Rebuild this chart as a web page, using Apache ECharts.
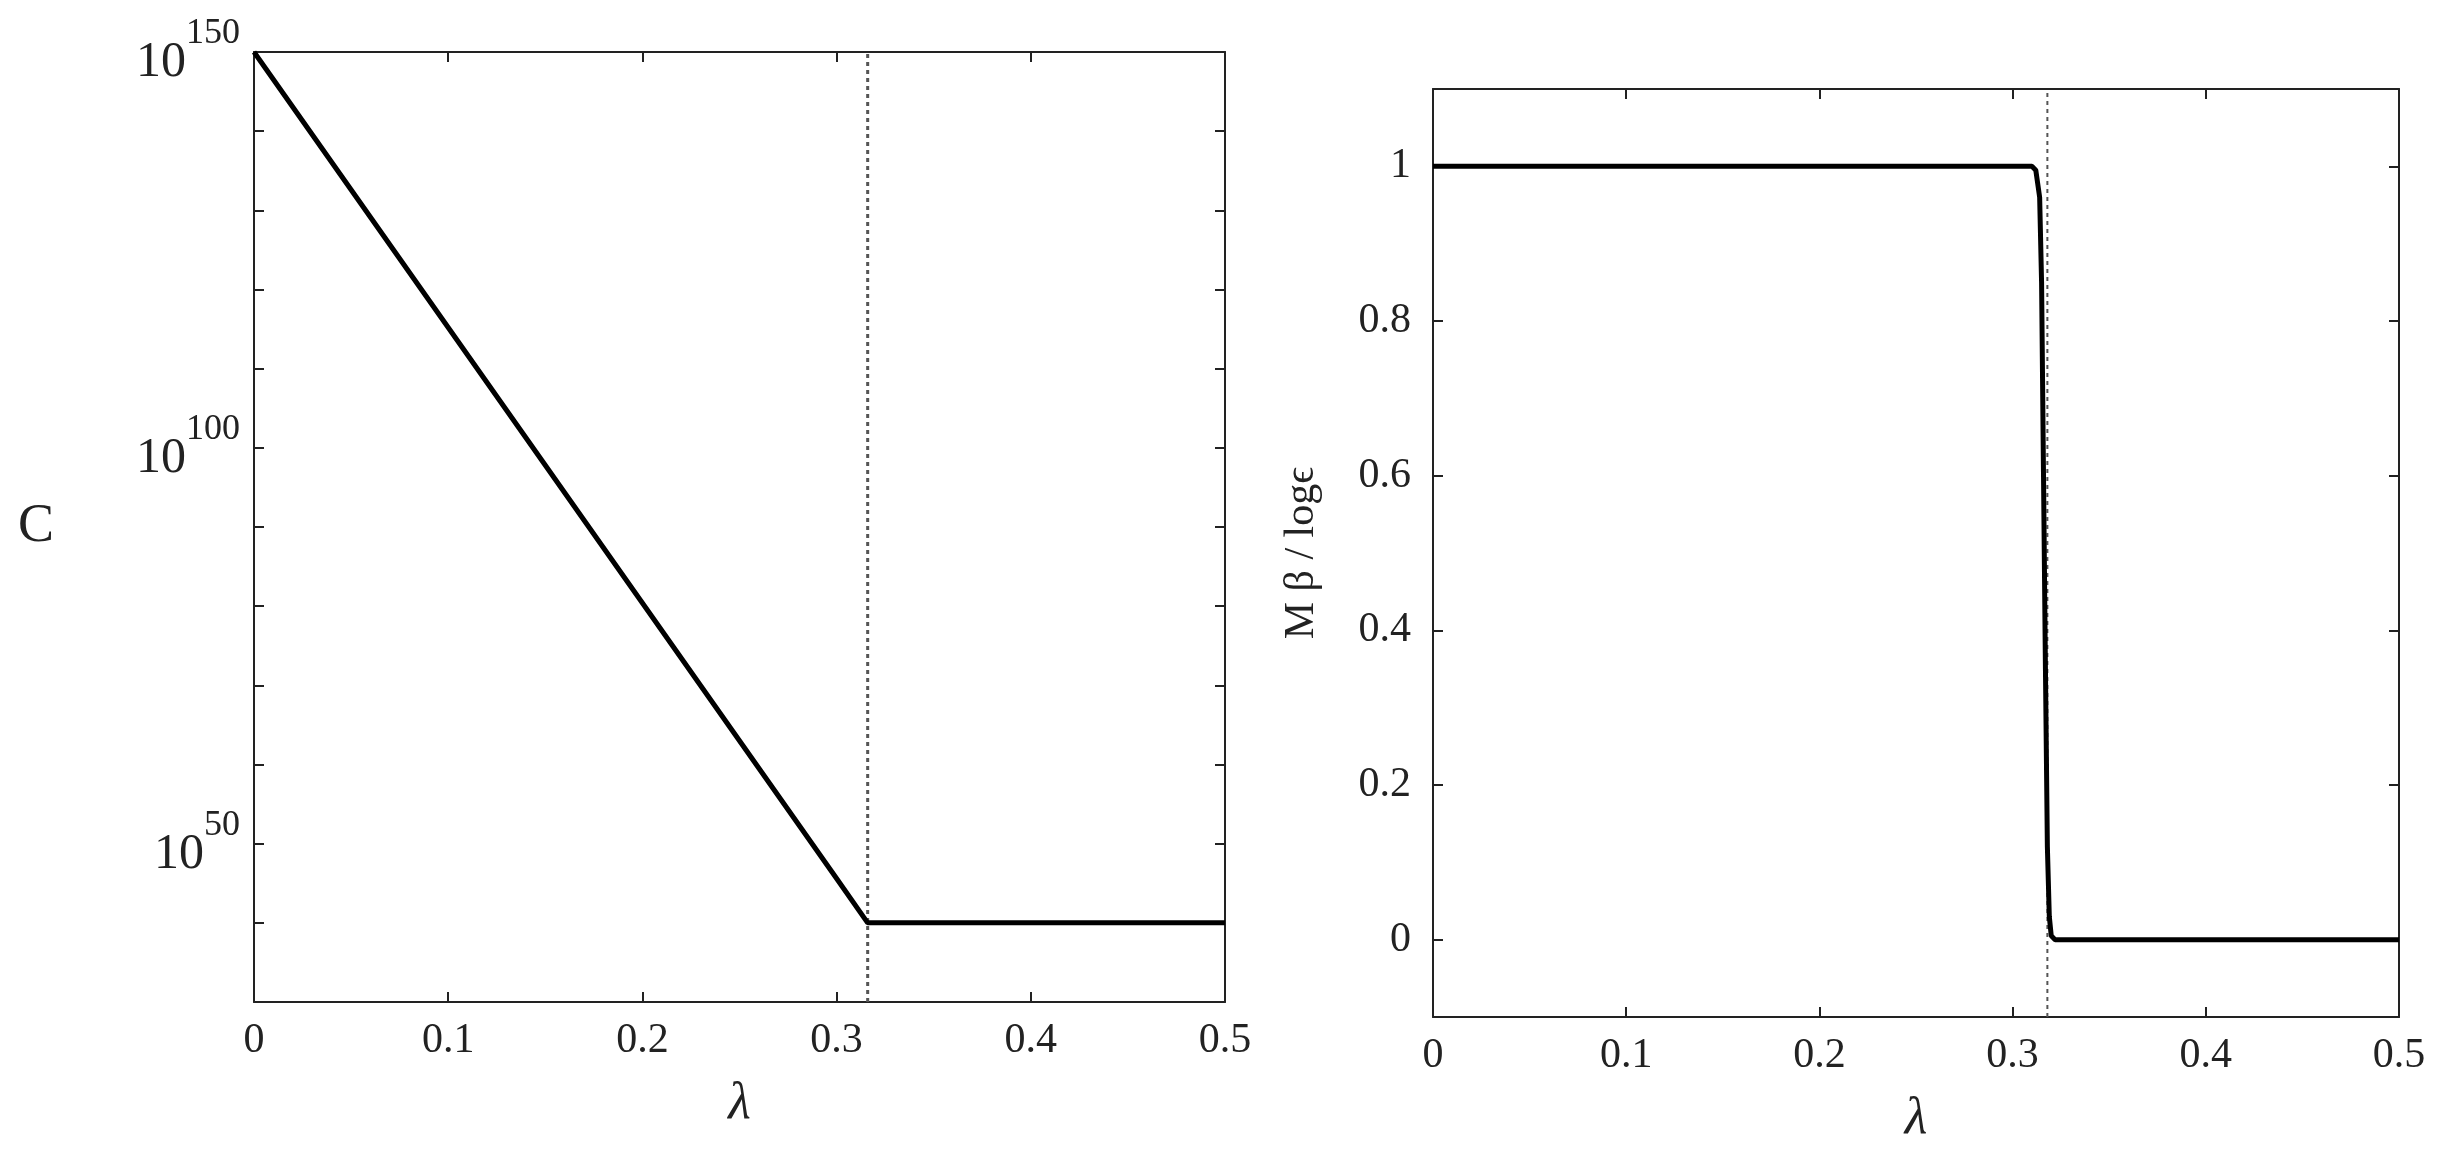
<!DOCTYPE html>
<html>
<head>
<meta charset="utf-8">
<script src="https://cdn.jsdelivr.net/npm/echarts@6/dist/echarts.min.js"></script>
<style>html,body{margin:0;background:#fff}#c{width:2447px;height:1172px}</style>
</head>
<body>
<div id="c"></div>
<script>
// 左图: log10(C) 对 λ
const lamLeft = [0, 0.05, 0.1, 0.15, 0.2, 0.25, 0.3, 0.316, 0.35, 0.4, 0.45, 0.5];
const logC = [150, 132.6, 115.2, 97.8, 80.4, 63.0, 45.6, 40.0, 40.0, 40.0, 40.0, 40.0];
const critLeft = 0.316;
// 右图: Mβ/logϵ 对 λ
const lamRight = [0, 0.1, 0.2, 0.3, 0.31, 0.312, 0.314, 0.315, 0.316, 0.317, 0.318, 0.319, 0.32, 0.322, 0.35, 0.4, 0.5];
const mBeta = [1, 1, 1, 1, 1, 0.995, 0.96, 0.85, 0.6, 0.35, 0.12, 0.03, 0.005, 0, 0, 0, 0];
const critRight = 0.318;
const xTicks = [0, 0.1, 0.2, 0.3, 0.4, 0.5];
const leftTicks = [30, 40, 50, 60, 70, 80, 90, 100, 110, 120, 130, 140, 150];
const leftLabels = [50, 100, 150];
const rightTicks = [0, 0.2, 0.4, 0.6, 0.8, 1];

const font = 'Liberation Serif';
const ink = '#222';
const line = { onZero: false, lineStyle: { color: ink, width: 2 } };
const tick = (vals) => ({ inside: true, length: 10, customValues: vals, lineStyle: { color: ink, width: 2 } });

function xAxes(gi) {
  return [
    { gridIndex: gi, type: 'value', min: 0, max: 0.5, axisLine: line, axisTick: tick(xTicks),
      splitLine: { show: false },
      axisLabel: { customValues: xTicks, margin: 18, fontFamily: font, fontSize: 42, color: ink,
        formatter: v => v === 0 ? '0' : String(+v.toFixed(1)) },
      name: 'λ', nameLocation: 'middle', nameGap: 76,
      nameTextStyle: { fontFamily: font, fontSize: 52, fontStyle: 'italic', color: ink } },
    { gridIndex: gi, type: 'value', position: 'top', min: 0, max: 0.5, axisLine: line,
      axisTick: tick(xTicks), axisLabel: { show: false }, splitLine: { show: false } }
  ];
}

function critLine(x, yMin, yMax, xi, yi, w) {
  return { type: 'line', xAxisIndex: xi, yAxisIndex: yi, showSymbol: false, silent: true, z: 2,
    data: [[x, yMin], [x, yMax]], lineStyle: { color: '#555', type: [4, 4], width: w } };
}

const chart = echarts.init(document.getElementById('c'));
chart.setOption({
  animation: false,
  grid: [
    { left: 254, top: 52, width: 971, height: 950 },
    { left: 1433, top: 89, width: 966, height: 928 }
  ],
  xAxis: [...xAxes(0), ...xAxes(1)],
  yAxis: [
    { gridIndex: 0, type: 'value', min: 30, max: 150, axisLine: line, axisTick: tick(leftTicks),
      splitLine: { show: false },
      axisLabel: { customValues: leftLabels, margin: 14, color: ink,
        formatter: v => '{b|10}{s|' + v + '}',
        rich: { b: { fontFamily: font, fontSize: 50, color: ink, padding: [22, 0, 0, 0] },
                s: { fontFamily: font, fontSize: 36, color: ink, verticalAlign: 'top', padding: [0, 0, 26, 0] } } },
      name: 'C', nameLocation: 'middle', nameGap: 200, nameRotate: 0,
      nameTextStyle: { fontFamily: font, fontSize: 54, color: ink } },
    { gridIndex: 0, type: 'value', position: 'right', min: 30, max: 150, axisLine: line,
      axisTick: tick(leftTicks), axisLabel: { show: false }, splitLine: { show: false } },
    { gridIndex: 1, type: 'value', min: -0.1, max: 1.1, axisLine: line, axisTick: tick(rightTicks),
      splitLine: { show: false },
      axisLabel: { customValues: rightTicks, margin: 22, fontFamily: font, fontSize: 42, color: ink,
        formatter: v => String(+v.toFixed(1)) },
      name: 'M β / logϵ', nameLocation: 'middle', nameGap: 110,
      nameTextStyle: { fontFamily: font, fontSize: 42, color: ink } },
    { gridIndex: 1, type: 'value', position: 'right', min: -0.1, max: 1.1, axisLine: line,
      axisTick: tick(rightTicks), axisLabel: { show: false }, splitLine: { show: false } }
  ],
  series: [
    critLine(critLeft, 30, 150, 0, 0, 3),
    { type: 'line', xAxisIndex: 0, yAxisIndex: 0, showSymbol: false, z: 3,
      data: lamLeft.map((x, i) => [x, logC[i]]), lineStyle: { color: '#000', width: 5 } },
    critLine(critRight, -0.1, 1.1, 2, 2, 2),
    { type: 'line', xAxisIndex: 2, yAxisIndex: 2, showSymbol: false, z: 3,
      data: lamRight.map((x, i) => [x, mBeta[i]]), lineStyle: { color: '#000', width: 5 } }
  ]
});
</script>
</body>
</html>
